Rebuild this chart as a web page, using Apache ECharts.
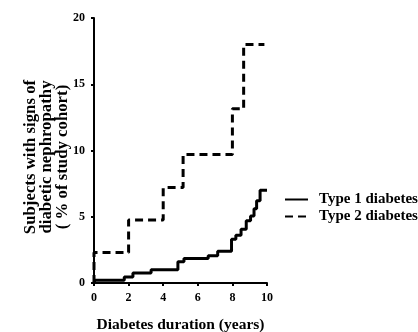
<!DOCTYPE html>
<html>
<head>
<meta charset="utf-8">
<script src="https://cdn.jsdelivr.net/npm/echarts@6/dist/echarts.min.js"></script>
<style>html,body{margin:0;padding:0;background:#fff;}#c{width:418px;height:332px;}</style>
</head>
<body>
<div id="c"></div>
<script>
var xTicks = [0, 2, 4, 6, 8, 10];
var yTicks = [0, 5, 10, 15, 20];
var type1 = [[0,0],[0.05,0.2],[1.75,0.45],[2.25,0.75],[3.3,1.0],[4.85,1.6],[5.2,1.85],[6.6,2.05],[7.15,2.4],[7.95,3.3],[8.2,3.6],[8.5,4.05],[8.8,4.7],[9.05,5.05],[9.25,5.6],[9.4,6.2],[9.6,7.0],[10,7.0]];
var type2 = [[0,0],[0,2.3],[2,4.75],[4,7.2],[5.15,9.7],[8,13.15],[8.65,18],[9.85,18]];
var seriesNames = ['Type 1 diabetes', 'Type 2 diabetes'];
var xTitle = 'Diabetes duration (years)';
var yTitle = 'Subjects with signs of\ndiabetic nephropathy\n( % of study cohort)';

var font = '"Liberation Serif", "Times New Roman", serif';
var chart = echarts.init(document.getElementById('c'), null, {renderer: 'canvas'});
chart.setOption({
  animation: false,
  backgroundColor: '#fff',
  grid: {left: 94, right: 151, top: 18, bottom: 49, containLabel: false, outerBoundsMode: 'none'},
  legend: {
    left: 284, top: 192, orient: 'vertical', itemWidth: 23, itemHeight: 12, itemGap: 2, padding: 0,
    itemStyle: {opacity: 0},
    textStyle: {fontFamily: font, fontWeight: 'bold', fontSize: 15, color: '#000', padding: [0, 0, 0, 6]},
    data: seriesNames
  },
  graphic: [{
    type: 'text', x: 46.5, y: 157, rotation: Math.PI / 2,
    style: {text: yTitle, fontFamily: font, fontWeight: 'bold', fontSize: 16.8, lineHeight: 16,
            fill: '#000', align: 'center', verticalAlign: 'middle'}
  }],
  xAxis: {
    type: 'value', min: 0, max: 10, interval: 2,
    name: xTitle, nameLocation: 'middle', nameGap: 34,
    nameTextStyle: {fontFamily: font, fontWeight: 'bold', fontSize: 15.5, color: '#000'},
    axisLine: {lineStyle: {color: '#000', width: 2}},
    axisTick: {show: true, length: 3, lineStyle: {color: '#000', width: 2}},
    axisLabel: {fontFamily: font, fontWeight: 'bold', fontSize: 12, color: '#000', margin: 9},
    splitLine: {show: false}
  },
  yAxis: {
    type: 'value', min: 0, max: 20, interval: 5,
    axisLine: {show: true, lineStyle: {color: '#000', width: 2}},
    axisTick: {show: true, length: 3, lineStyle: {color: '#000', width: 2}},
    axisLabel: {fontFamily: font, fontWeight: 'bold', fontSize: 12, color: '#000', margin: 9},
    splitLine: {show: false}
  },
  series: [
    {name: seriesNames[0], type: 'line', step: 'end', data: type1, symbol: 'none',
     lineStyle: {color: '#000', width: 3}, itemStyle: {color: '#000'}},
    {name: seriesNames[1], type: 'line', step: 'end', data: type2, symbol: 'none',
     lineStyle: {color: '#000', width: 3, type: [8, 5]}, itemStyle: {color: '#000'}}
  ]
});
</script>
</body>
</html>
